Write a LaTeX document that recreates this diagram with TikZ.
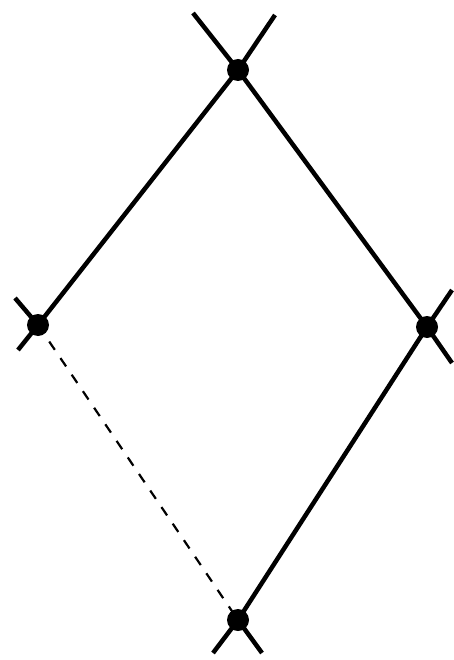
\documentclass[tikz,border=0pt]{standalone}
\begin{document}
\begin{tikzpicture}[x=1pt,y=-1pt,
  solidline/.style={line width=4.5pt,black},
  dashline/.style={line width=2.2pt,black,dash pattern=on 10pt off 10pt},
  vertex/.style={circle,fill=black,minimum size=22pt,inner sep=0pt}]
\useasboundingbox (0,0) rectangle (453,660);
\coordinate (T) at (238,70);
\coordinate (L) at (38,325);
\coordinate (R) at (427,327);
\coordinate (B) at (238,620);
\coordinate (T1) at (193,13);
\coordinate (T2) at (275,15);
\coordinate (L1) at (15,298);
\coordinate (L2) at (18,350);
\coordinate (R1) at (452,290);
\coordinate (R2) at (452,363);
\coordinate (B1) at (213,653);
\coordinate (B2) at (262,653);
\draw[solidline] (L2) -- (L) -- (T) -- (T2);
\draw[solidline] (T1) -- (T) -- (R) -- (R2);
\draw[solidline] (R1) -- (R) -- (B) -- (B1);
\draw[solidline] (L1) -- (L);
\draw[solidline] (B) -- (B2);
\draw[dashline] (L) -- (B);
\node[vertex] (t) at (T) {};
\node[vertex] (l) at (L) {};
\node[vertex] (r) at (R) {};
\node[vertex] (b) at (B) {};
\end{tikzpicture}
\end{document}
